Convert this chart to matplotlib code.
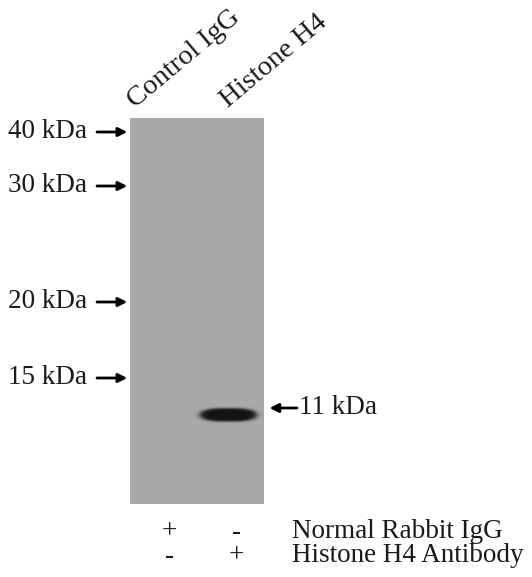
import numpy as np
import matplotlib
matplotlib.use("Agg")
import matplotlib.pyplot as plt
from matplotlib.transforms import offset_copy

# -------------------------------------------------------
# DATA
# -------------------------------------------------------
lanes = ["Control IgG", "Histone H4"]
marker_labels = ["40 kDa", "30 kDa", "20 kDa", "15 kDa"]
marker_pos = [14, 68, 184, 260]        # migration distance from top of blot (px)
band_label = "11 kDa"
band_pos = 297                          # migration distance of the detected band
band_intensity = [0.0, 1.0]             # per lane
normal_igg = ["+", "-"]
h4_antibody = ["-", "+"]
row_names = ["Normal Rabbit IgG", "Histone H4 Antibody"]

blot_height = 386

plt.rcParams["font.family"] = ["Liberation Serif", "DejaVu Serif"]
txt_color = "#1a1a1a"
fs = 19.5

fig = plt.figure(figsize=(5.32, 5.77), dpi=100)
W, H = 532, 577
ax = fig.add_axes([130 / W, 1 - 504 / H, 134 / W, blot_height / H])
ax.set_xlim(0.5, len(lanes) + 0.5)
ax.set_ylim(blot_height, 0)
ax.axis("off")

# -------------------------------------------------------
# BLOT IMAGE (gray membrane + dark band)
# -------------------------------------------------------
nx, ny = 268, 772
xs = np.linspace(0.5, len(lanes) + 0.5, nx)
ys = np.linspace(0, blot_height, ny)
X, Y = np.meshgrid(xs, ys)
bg = 0.665
img = np.full(X.shape, bg)
for i, inten in enumerate(band_intensity):
    if inten <= 0:
        continue
    xc = i + 1 - 0.03
    a, b = 0.47, 7.6
    r = (np.abs((X - xc) / a) ** 3 + np.abs((Y - band_pos) / b) ** 2.2) ** 0.4
    dark = inten / (1 + np.exp((r - 0.88) / 0.07))
    img = img - (bg - 0.08) * dark
ax.imshow(img, cmap="gray", vmin=0, vmax=1, extent=(0.5, len(lanes) + 0.5, blot_height, 0),
          aspect="auto", interpolation="bilinear")

# -------------------------------------------------------
# MARKERS (left side)
# -------------------------------------------------------
arrow_kw = dict(arrowstyle="-|>", color="black", lw=2.0, mutation_scale=13)
for lab, pos in zip(marker_labels, marker_pos):
    ax.annotate("", xy=(0.5, pos), xycoords="data",
                xytext=(-33, 0), textcoords="offset pixels",
                arrowprops=dict(arrow_kw, shrinkA=0, shrinkB=2))
    tr = offset_copy(ax.transData, fig=fig, x=-43, y=0, units="dots")
    ax.text(0.5, pos, lab, transform=tr, ha="right", va="center",
            fontsize=fs, color=txt_color)

# band label on the right
ax.annotate("", xy=(len(lanes) + 0.5, band_pos - 7), xycoords="data",
            xytext=(33, 0), textcoords="offset pixels",
            arrowprops=dict(arrow_kw, shrinkA=0, shrinkB=-4))
tr = offset_copy(ax.transData, fig=fig, x=35, y=0, units="dots")
ax.text(len(lanes) + 0.5, band_pos - 7, band_label, transform=tr,
        ha="left", va="center", fontsize=fs, color=txt_color)

# -------------------------------------------------------
# LANE LABELS (rotated, on top)
# -------------------------------------------------------
label_dx = [-28, -3]
for i, lab in enumerate(lanes):
    tr = offset_copy(ax.transData, fig=fig, x=label_dx[i], y=10, units="dots")
    ax.text(i + 1, 0, lab, transform=tr, rotation=40, rotation_mode="anchor",
            ha="left", va="baseline", fontsize=fs + 1, color=txt_color)

# -------------------------------------------------------
# +/- TABLE (bottom)
# -------------------------------------------------------
rows = [normal_igg, h4_antibody]
row_dy = [-28, -52]
for r, signs in enumerate(rows):
    for i, s in enumerate(signs):
        tr = offset_copy(ax.transData, fig=fig, x=6, y=row_dy[r], units="dots")
        ax.text(i + 1, blot_height, s, transform=tr, ha="center", va="center",
                fontsize=fs, color=txt_color)
    tr = offset_copy(ax.transData, fig=fig, x=28, y=row_dy[r], units="dots")
    ax.text(len(lanes) + 0.5, blot_height, row_names[r], transform=tr,
            ha="left", va="center", fontsize=fs, color=txt_color)

fig.savefig("out.png", dpi=100)
